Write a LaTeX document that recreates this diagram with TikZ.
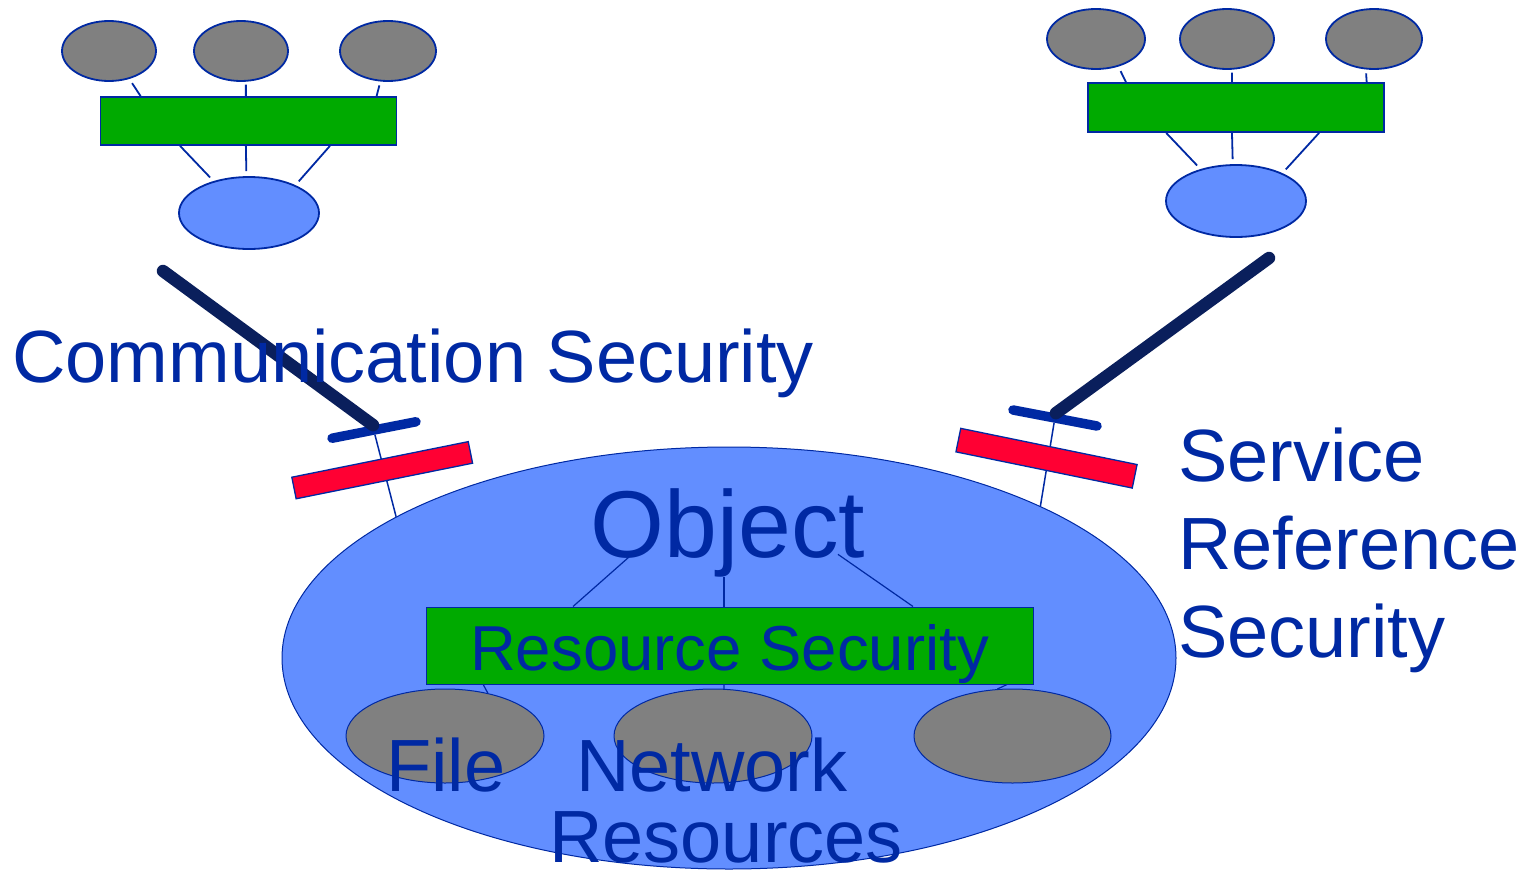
\documentclass[tikz,border=0pt]{standalone}
\usepackage{fontspec}
\setmainfont{Liberation Sans}
\usetikzlibrary{shapes.geometric,calc}

\definecolor{inkblue}{RGB}{0,41,163}
\definecolor{navy}{RGB}{10,31,92}
\definecolor{skyblue}{RGB}{98,142,255}
\definecolor{boxgreen}{RGB}{0,170,0}
\definecolor{hostgrey}{RGB}{128,128,128}
\definecolor{guardred}{RGB}{255,0,51}

\begin{document}
\begin{tikzpicture}[x=1pt,y=-1pt,
  host/.style={ellipse,draw=inkblue,fill=hostgrey,line width=1.8pt,inner sep=0pt},
  client/.style={ellipse,draw=inkblue,fill=skyblue,line width=1.8pt,minimum width=140pt,minimum height=72pt,inner sep=0pt},
  hub/.style={rectangle,draw=inkblue,fill=boxgreen,line width=1.8pt,minimum width=296pt,minimum height=48pt,inner sep=0pt},
  wire/.style={draw=inkblue,line width=1.8pt},
  guard/.style={rectangle,draw=inkblue,fill=guardred,line width=1.3pt,minimum width=180pt,inner sep=0pt},
  plug/.style={rectangle,rounded corners=4.7pt,fill=inkblue,minimum width=95pt,minimum height=9.5pt,inner sep=0pt},
  trunk/.style={draw=navy,line width=12.5pt,line cap=round},
  bigtext/.style={text=inkblue,inner sep=0pt,font=\fontsize{74}{88}\selectfont}]
  \useasboundingbox (0,0) rectangle (1531,870);

  % the object with its resources
  \node[ellipse,draw=inkblue,fill=skyblue,line width=1pt,minimum width=894pt,minimum height=422pt,inner sep=0pt] (obj) at (729,658) {};
  \node[bigtext,font=\fontsize{95}{110}\selectfont,anchor=base] (objlbl) at (728,557) {Object};
  \node[rectangle,draw=inkblue,fill=boxgreen,line width=1pt,minimum width=607pt,minimum height=77pt,inner sep=0pt,
        text=inkblue,font=\fontsize{63.5}{70}\selectfont,text height=49pt,text depth=0pt] (res) at (729.5,645.5) {Resource Security};
  \draw[wire,line width=1.2pt] (res.166) -- ($(objlbl.base west)!0.14!(objlbl.base east)$);
  \draw[wire,line width=1.2pt] (res.98) -- (res.98 |- objlbl.south);
  \draw[wire,line width=1.2pt] (res.12) -- ($(objlbl.mid west)!0.9!(objlbl.mid east)$);
  \node[host,line width=1pt,minimum width=198pt,minimum height=94pt] (r1) at (445,736) {};
  \node[host,line width=1pt,minimum width=198pt,minimum height=94pt] (r2) at (713,736) {};
  \node[host,line width=1pt,minimum width=197pt,minimum height=94pt] (r3) at (1012.5,736) {};
  \draw[wire,line width=1.2pt] (res.189) -- (r1.45);
  \draw[wire,line width=1.2pt] (res.262) -- (r2.77);
  \draw[wire,line width=1.2pt] (res.-8) -- (r3.108);
  \node[bigtext,anchor=base west] (lblfile) at (386,791) {File};
  \node[bigtext,anchor=base west] (lblnet) at (576,791) {Network};
  \node[bigtext,anchor=base west] (lblres) at (549,862) {Resources};

  % left gate
  \node[plug,rotate=11.1] (b1) at (374,430) {};
  \draw[wire,line width=1.5pt] (b1.south) -- (obj.157.3);
  \node[guard,minimum height=22pt,rotate=11.4] (f1) at (382.2,470.2) {};
  \coordinate (t1) at (163,271);
  \draw[trunk] (t1) -- (b1.north);

  % right gate
  \node[plug,rotate=-10.8] (b2) at (1055,418) {};
  \draw[wire,line width=1.5pt] (b2.south) -- (obj.26.4);
  \node[guard,minimum height=24pt,rotate=-11.6] (f2) at (1046.5,458.2) {};
  \coordinate (t2) at (1269,258);
  \draw[trunk] (t2) -- (b2.north);

  % left client
  \node[host,minimum width=94pt,minimum height=60pt] (g1) at (109,51) {};
  \node[host,minimum width=94pt,minimum height=60pt] (g2) at (241,51) {};
  \node[host,minimum width=96pt,minimum height=60pt] (g3) at (388,51) {};
  \node[hub] (bar1) at (248.5,121) {};
  \node[client] (h1) at (249,213) {};
  \draw[wire,shorten <=5pt] (g1.-54) -- (bar1.167);
  \draw[wire,shorten <=3pt] (g2.-81) -- (bar1.96);
  \draw[wire,shorten <=4pt] (g3.-104) -- (bar1.11);
  \draw[wire,shorten >=5pt] (bar1.200) -- (h1.138);
  \draw[wire,shorten >=5pt] (bar1.264) -- (h1.94);
  \draw[wire,shorten >=5pt] (bar1.-17) -- (h1.31);

  % right client
  \node[host,minimum width=98pt,minimum height=60pt] (g4) at (1096,39) {};
  \node[host,minimum width=94pt,minimum height=60pt] (g5) at (1227,39) {};
  \node[host,minimum width=96pt,minimum height=60pt] (g6) at (1374,39) {};
  \node[hub,minimum height=49pt] (bar2) at (1236,107.5) {};
  \node[client] (h2) at (1236,201) {};
  \draw[wire,shorten <=5pt] (g4.-51) -- (bar2.167);
  \draw[wire,shorten <=3pt] (g5.-81) -- (bar2.99);
  \draw[wire,shorten <=4pt] (g6.-105) -- (bar2.11.5);
  \draw[wire,shorten >=5pt] (bar2.200) -- (h2.138);
  \draw[wire,shorten >=5pt] (bar2.-99) -- (h2.95);
  \draw[wire,shorten >=5pt] (bar2.-17) -- (h2.31);

  \node[bigtext,anchor=base west] (comm) at (12,382) {Communication Security};
  \node[bigtext,align=left,anchor=north west] (srs) at (1178,428) {Service\\Reference\\Security};
\end{tikzpicture}
\end{document}
